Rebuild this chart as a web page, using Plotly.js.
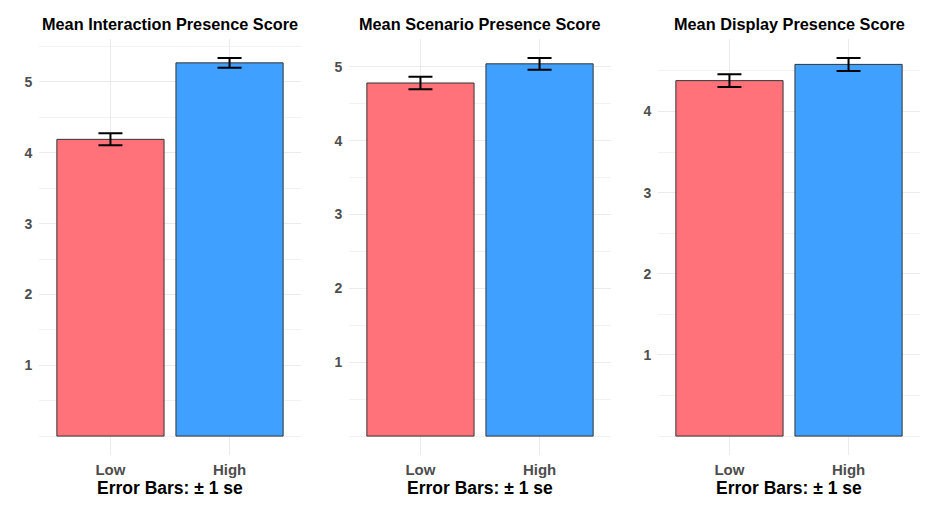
<!DOCTYPE html>
<html>
<head>
<meta charset="utf-8">
<script src="https://cdn.plot.ly/plotly-3.0.1.min.js"></script>
<style>html,body{margin:0;padding:0;background:#fff;}#chart{width:940px;height:516px;}</style>
</head>
<body>
<div id="chart"></div>
<script>
var categories = ["Low", "High"];
var panelTitles = ["Mean Interaction Presence Score", "Mean Scenario Presence Score", "Mean Display Presence Score"];
var interactionMeans = [4.19, 5.27];
var interactionSE = [0.085, 0.07];
var scenarioMeans = [4.78, 5.04];
var scenarioSE = [0.085, 0.08];
var displayMeans = [4.38, 4.58];
var displaySE = [0.08, 0.08];
var yTickVals = [1, 2, 3, 4, 5];
var footerText = "Error Bars: \u00b1 1 se";
var barColors = ["#FF727A", "#3FA0FF"];

(function () {
var means = [interactionMeans, scenarioMeans, displayMeans];
var ses = [interactionSE, scenarioSE, displaySE];
var W = 940, H = 516;
var xDomPx = [[39, 301], [349, 611], [658, 920]];
var yDom = [1 - 455 / H, 1 - 39 / H];
var font = "Liberation Sans, Arial, sans-serif";

var data = [], layout = {
  width: W, height: H, margin: {l: 0, r: 0, t: 0, b: 0},
  paper_bgcolor: "#fff", plot_bgcolor: "#fff", showlegend: false,
  bargap: 0.1, annotations: [], font: {family: font}
};

for (var i = 0; i < 3; i++) {
  var sfx = i === 0 ? "" : String(i + 1);
  data.push({
    type: "bar", x: categories, y: means[i],
    xaxis: "x" + sfx, yaxis: "y" + sfx,
    marker: {color: barColors, line: {color: "#333333", width: 1}},
    error_y: {type: "data", array: ses[i], visible: true, color: "#000", thickness: 2, width: 12},
    hoverinfo: "none"
  });
  var ymax = 0;
  for (var k = 0; k < 2; k++) ymax = Math.max(ymax, means[i][k] + ses[i][k]);
  var dom = [xDomPx[i][0] / W, xDomPx[i][1] / W];
  layout["xaxis" + sfx] = {
    domain: dom, anchor: "y" + sfx, type: "category", range: [-0.6, 1.6], autorange: false,
    showgrid: true, gridcolor: "#ebebeb", gridwidth: 1, zeroline: false, showline: false,
    ticks: "outside", ticklen: 1, tickcolor: "rgba(0,0,0,0)",
    tickfont: {family: font, size: 15, color: "#4d4d4d", weight: "bold"}, fixedrange: true
  };
  layout["yaxis" + sfx] = {
    domain: yDom, anchor: "x" + sfx, range: [-0.05 * ymax, 1.05 * ymax], autorange: false,
    tickmode: "array", tickvals: yTickVals, ticktext: yTickVals.map(String),
    showgrid: true, gridcolor: "#ebebeb", gridwidth: 1, zeroline: false, showline: false,
    minor: {tick0: 0, dtick: 0.5, showgrid: true, gridcolor: "#f2f2f2", gridwidth: 1},
    ticks: "outside", ticklen: 3, tickcolor: "rgba(0,0,0,0)",
    tickfont: {family: font, size: 14, color: "#4d4d4d", weight: "bold"}, fixedrange: true
  };
  var cx = (dom[0] + dom[1]) / 2;
  layout.annotations.push({
    text: "<b>" + panelTitles[i] + "</b>", xref: "paper", yref: "paper",
    x: cx, y: 1 - 24 / H, xanchor: "center", yanchor: "middle", showarrow: false,
    font: {family: font, size: 16.3, color: "#000"}
  });
  layout.annotations.push({
    text: "<b>" + footerText + "</b>", xref: "paper", yref: "paper",
    x: cx, y: 1 - 488 / H, xanchor: "center", yanchor: "middle", showarrow: false,
    font: {family: font, size: 17.5, color: "#000"}
  });
}

Plotly.newPlot("chart", data, layout, {displayModeBar: false, staticPlot: true});
})();
</script>
</body>
</html>
